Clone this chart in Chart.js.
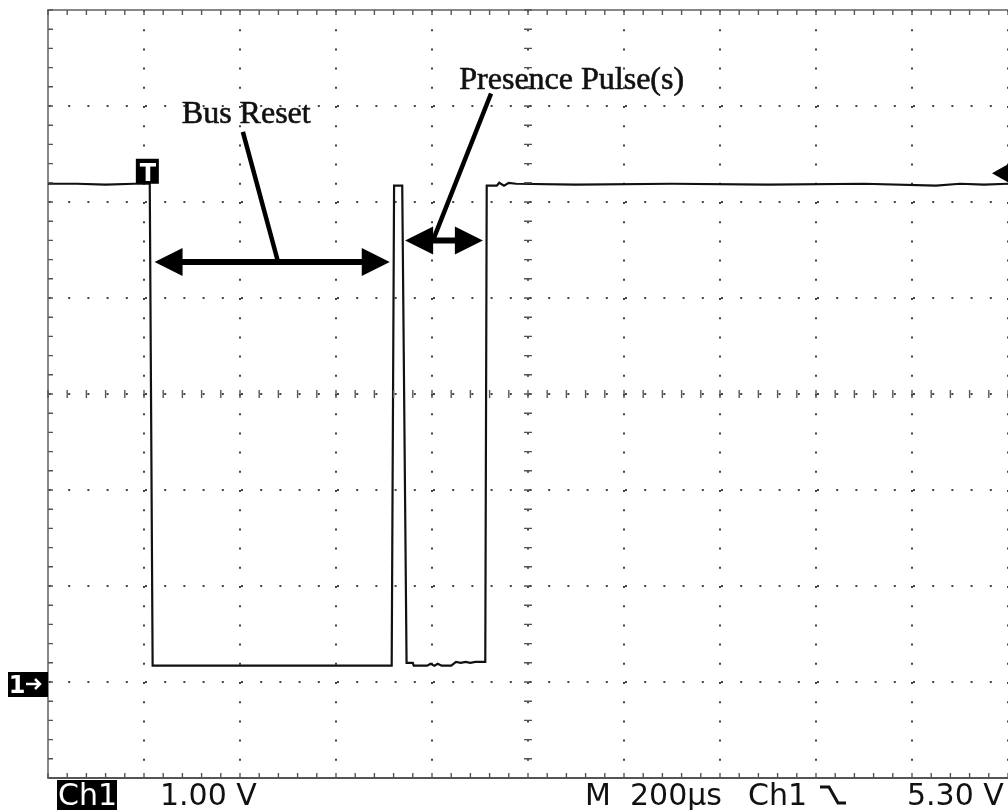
<!DOCTYPE html>
<html>
<head>
<meta charset="utf-8">
<script src="https://cdn.jsdelivr.net/npm/chart.js@4.4.1/dist/chart.umd.min.js"></script>
<style>
  html, body { margin: 0; padding: 0; background: #fff; overflow: hidden; }
  #wrap { position: relative; width: 1008px; height: 810px; }
</style>
</head>
<body>
<div id="wrap"><canvas id="scope"></canvas></div>
<script>
// Ch1 trace, time in µs from left edge of the screen, volts
const timeUs = [0, 60, 120, 180, 212, 218, 300, 400, 500, 600, 716, 721, 738, 747, 760, 762, 790, 797, 805, 812, 820, 840, 850, 860, 870, 880, 890, 911, 914, 935, 940, 950, 960, 975, 1100, 1300, 1500, 1700, 1850, 1900, 1950, 2000];
const voltsCh1 = [5.19, 5.19, 5.18, 5.19, 5.19, 0.17, 0.17, 0.17, 0.17, 0.17, 0.17, 5.17, 5.17, 0.2, 0.2, 0.17, 0.17, 0.19, 0.17, 0.19, 0.17, 0.17, 0.21, 0.2, 0.21, 0.2, 0.21, 0.21, 5.17, 5.17, 5.2, 5.17, 5.2, 5.19, 5.18, 5.19, 5.18, 5.19, 5.17, 5.19, 5.18, 5.19];

// scope settings
const timeRange = [0, 2000];   // 10 div x 200 µs
const voltRange = [-1, 7];     // 8 div x 1 V, ground 1 div above bottom
const timePerDiv = 200;
const voltsPerDiv = 1;
const triggerTimeUs = 208;
const triggerLevelV = 5.30;
const groundV = 0;

// annotations (data coordinates)
const labelTexts = ['Bus Reset', 'Presence Pulse(s)'];
const labelAt = [[413, 5.82], [1091, 6.18]];
const leaderFrom = [[406, 5.73], [923, 6.13]];
const leaderTo = [[479, 4.38], [802, 4.6]];
const spanStart = [[222, 4.375], [744, 4.6]];
const spanEnd = [[712, 4.375], [906, 4.6]];

// readouts
const readoutLeft = ['1.00 V'];
const readoutRight = ['M', '200µs', 'Ch1', '5.30 V'];

const pts = timeUs.map((t, i) => ({ x: t, y: voltsCh1[i] }));

function arrowHead(ctx, tipX, tipY, dir) {
  ctx.beginPath();
  ctx.moveTo(tipX, tipY);
  ctx.lineTo(tipX + dir * 28, tipY - 14);
  ctx.lineTo(tipX + dir * 28, tipY + 14);
  ctx.closePath();
  ctx.fill();
}

const scopeDecor = {
  id: 'scopeDecor',
  afterDatasetsDraw(chart) {
    const { ctx, chartArea: a, scales: { x, y } } = chart;
    ctx.save();

    // minor ticks along centre lines and edges
    ctx.strokeStyle = '#555';
    ctx.lineWidth = 1.4;
    const yc = y.getPixelForValue((voltRange[0] + voltRange[1]) / 2);
    const xc = x.getPixelForValue((timeRange[0] + timeRange[1]) / 2);
    for (let t = timeRange[0]; t <= timeRange[1]; t += timePerDiv / 5) {
      const px = x.getPixelForValue(t);
      ctx.beginPath();
      ctx.moveTo(px, yc - 4); ctx.lineTo(px, yc + 4);
      ctx.moveTo(px, a.top); ctx.lineTo(px, a.top + 5);
      ctx.moveTo(px, a.bottom); ctx.lineTo(px, a.bottom - 5);
      ctx.stroke();
    }
    for (let v = voltRange[0]; v <= voltRange[1] + 1e-6; v += voltsPerDiv / 5) {
      const py = y.getPixelForValue(v);
      ctx.beginPath();
      ctx.moveTo(xc - 4, py); ctx.lineTo(xc + 4, py);
      ctx.moveTo(a.left, py); ctx.lineTo(a.left + 5, py);
      ctx.stroke();
    }

    ctx.fillStyle = '#000';
    ctx.strokeStyle = '#000';

    // trigger point marker
    const tx = x.getPixelForValue(triggerTimeUs);
    const ty = y.getPixelForValue(voltsCh1[0]);
    ctx.fillRect(tx - 12, ty - 25, 23, 25);
    ctx.fillStyle = '#fff';
    ctx.font = 'bold 24px "DejaVu Sans"';
    ctx.textAlign = 'center';
    ctx.textBaseline = 'alphabetic';
    ctx.fillText('T', tx, ty - 3);

    // ground marker
    const gy = y.getPixelForValue(groundV);
    ctx.fillStyle = '#000';
    ctx.fillRect(a.left - 40, gy - 10, 40, 25);
    ctx.fillStyle = '#fff';
    ctx.font = 'bold 24px "DejaVu Sans"';
    ctx.fillText('1', a.left - 31, gy + 11);
    ctx.strokeStyle = '#fff';
    ctx.lineWidth = 2.5;
    ctx.beginPath();
    ctx.moveTo(a.left - 22, gy + 2); ctx.lineTo(a.left - 8, gy + 2);
    ctx.moveTo(a.left - 13, gy - 3); ctx.lineTo(a.left - 8, gy + 2); ctx.lineTo(a.left - 13, gy + 7);
    ctx.stroke();

    // trigger level marker
    const ly = y.getPixelForValue(triggerLevelV);
    ctx.fillStyle = '#000';
    ctx.beginPath();
    ctx.moveTo(a.right - 16, ly);
    ctx.lineTo(a.right, ly - 9);
    ctx.lineTo(a.right, ly + 9);
    ctx.closePath();
    ctx.fill();

    // annotations
    ctx.font = '32px "Liberation Serif"';
    ctx.fillStyle = '#111';
    ctx.strokeStyle = '#111';
    ctx.lineWidth = 0.6;
    labelTexts.forEach((txt, i) => {
      const px = x.getPixelForValue(labelAt[i][0]);
      const py = y.getPixelForValue(labelAt[i][1]);
      ctx.fillText(txt, px, py);
      ctx.strokeText(txt, px, py);
    });
    ctx.strokeStyle = '#000';
    ctx.fillStyle = '#000';
    ctx.lineWidth = 4.5;
    leaderFrom.forEach((p, i) => {
      ctx.beginPath();
      ctx.moveTo(x.getPixelForValue(p[0]), y.getPixelForValue(p[1]));
      ctx.lineTo(x.getPixelForValue(leaderTo[i][0]), y.getPixelForValue(leaderTo[i][1]));
      ctx.stroke();
    });
    ctx.lineWidth = 6;
    spanStart.forEach((p, i) => {
      const x1 = x.getPixelForValue(p[0]);
      const x2 = x.getPixelForValue(spanEnd[i][0]);
      const py = y.getPixelForValue(p[1]);
      ctx.beginPath();
      ctx.moveTo(x1 + 20, py); ctx.lineTo(x2 - 20, py);
      ctx.stroke();
      arrowHead(ctx, x1, py, 1);
      arrowHead(ctx, x2, py, -1);
    });

    // readouts
    ctx.font = '30px "DejaVu Sans"';
    ctx.textAlign = 'left';
    ctx.fillStyle = '#000';
    ctx.fillRect(57, 780, 60, 30);
    ctx.fillStyle = '#fff';
    ctx.fillText('Ch1', 58, 805);
    ctx.fillStyle = '#111';
    ctx.fillText(readoutLeft[0], 160, 805);
    const rx = [585, 630, 748, 907];
    readoutRight.forEach((s, i) => ctx.fillText(s, rx[i], 805));
    ctx.strokeStyle = '#111';
    ctx.lineWidth = 3;
    ctx.beginPath();
    ctx.moveTo(820, 787); ctx.lineTo(829, 787); ctx.lineTo(838, 803); ctx.lineTo(846, 803);
    ctx.stroke();

    ctx.restore();
  }
};

const gridDots = {
  display: true, drawTicks: false, color: '#444', lineWidth: 2
};

new Chart(document.getElementById('scope'), {
  type: 'line',
  data: {
    datasets: [{
      label: 'Ch1',
      data: pts,
      borderColor: '#111',
      borderWidth: 2.2,
      pointRadius: 0,
      tension: 0,
      xAxisID: 'x',
      yAxisID: 'y'
    }]
  },
  options: {
    responsive: true,
    maintainAspectRatio: false,
    animation: false,
    layout: { padding: { left: 48, top: 10, right: 0, bottom: 32 } },
    plugins: { legend: { display: false }, tooltip: { enabled: false } },
    scales: {
      x: {
        type: 'linear', position: 'bottom',
        min: timeRange[0], max: timeRange[1],
        ticks: { display: false, stepSize: timePerDiv },
        grid: gridDots,
        border: { display: true, color: '#555', width: 2, dash: [2, 17.2] }
      },
      xTop: {
        type: 'linear', position: 'top',
        min: timeRange[0], max: timeRange[1],
        ticks: { display: false },
        grid: { drawOnChartArea: false, drawTicks: false },
        border: { display: true, color: '#888', width: 2 }
      },
      y: {
        type: 'linear', position: 'left',
        min: voltRange[0], max: voltRange[1],
        ticks: { display: false, stepSize: voltsPerDiv },
        grid: gridDots,
        border: { display: true, color: '#888', width: 2, dash: [2, 17.2] }
      }
    }
  },
  plugins: [scopeDecor]
});
</script>
</body>
</html>
